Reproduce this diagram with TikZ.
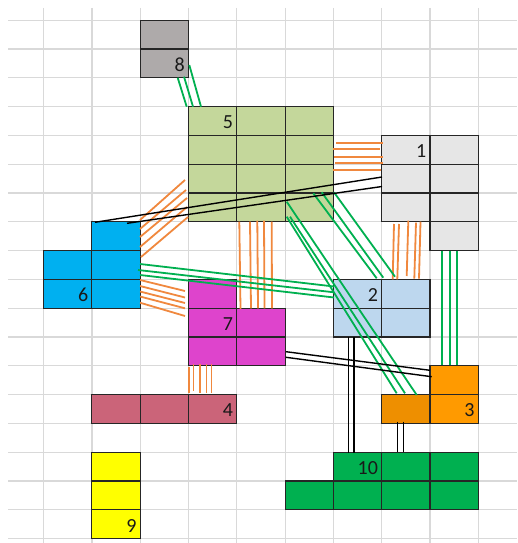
\documentclass[tikz,border=0pt]{standalone}
\usepackage{fontspec}
\setmainfont{Carlito}
\definecolor{gridc}{HTML}{D9D9D9}
\definecolor{cgray}{HTML}{AEAAAA}
\definecolor{colive}{HTML}{C4D79B}
\definecolor{clight}{HTML}{E6E6E6}
\definecolor{cblue}{HTML}{00B0F0}
\definecolor{cmag}{HTML}{DE44CC}
\definecolor{cpale}{HTML}{BDD7EE}
\definecolor{corA}{HTML}{FF9A00}
\definecolor{corB}{HTML}{EE8F00}
\definecolor{crose}{HTML}{CB6479}
\definecolor{cyel}{HTML}{FFFF00}
\definecolor{cgreen}{HTML}{00B050}
\definecolor{lgreen}{HTML}{00B050}
\definecolor{lorange}{HTML}{F0883E}
\newcommand\blockcell[3]{\filldraw[fill=#3,cellborder] ({43.6+48.3*#1},{20.2+28.8*#2}) rectangle ++(48.3,28.8);}
\newcommand\celllabel[4]{\node[lab] (#1) at ({43.6+48.3*(#2+1)-3.5},{20.2+28.8*(#3+1)-6.5}) {#4};}
\begin{document}
\begin{tikzpicture}[x=1pt,y=-1pt,
  gridline/.style={draw=gridc,line width=1.2pt},
  cellborder/.style={draw=black!85,line width=1.1pt},
  gline/.style={draw=lgreen,line width=1.8pt},
  oline/.style={draw=lorange,line width=1.8pt},
  kline/.style={draw=black,line width=1.4pt},
  lab/.style={anchor=base east,inner sep=0pt,text=black!90,font=\fontsize{20}{24}\selectfont}]
\useasboundingbox (0,0) rectangle (517,543);
\fill[white] (0,0) rectangle (517,543);
% grid
\foreach \c in {0,...,9} \draw[gridline] ({43.6+48.3*\c},8) -- ({43.6+48.3*\c},543);
\foreach \r in {0,...,18} \draw[gridline] (8,{20.2+28.8*\r}) -- (517,{20.2+28.8*\r});
% block 8
\foreach \r in {0,1} {\blockcell{2}{\r}{cgray}}
% block 5
\foreach \c in {3,4,5} {\foreach \r in {3,4,5,6} {\blockcell{\c}{\r}{colive}}}
% block 1
\foreach \c in {7,8} {\foreach \r in {4,5,6} {\blockcell{\c}{\r}{clight}}}
\blockcell{8}{7}{clight}
% block 6
\blockcell{1}{7}{cblue}
\foreach \c in {0,1} {\foreach \r in {8,9} {\blockcell{\c}{\r}{cblue}}}
% block 7
\blockcell{3}{9}{cmag}
\foreach \c in {3,4} {\foreach \r in {10,11} {\blockcell{\c}{\r}{cmag}}}
% block 2
\foreach \c in {6,7} {\foreach \r in {9,10} {\blockcell{\c}{\r}{cpale}}}
% block 3
\blockcell{8}{12}{corA}
\blockcell{7}{13}{corB}
\blockcell{8}{13}{corA}
% block 4
\foreach \c in {1,2,3} {\blockcell{\c}{13}{crose}}
% block 9
\foreach \r in {15,16,17} {\blockcell{1}{\r}{cyel}}
% block 10
\foreach \c in {6,7,8} {\blockcell{\c}{15}{cgreen}}
\foreach \c in {5,6,7,8} {\blockcell{\c}{16}{cgreen}}
% connectors 8-5
\foreach \a/\b/\c/\d in {177.7/77.7/186.7/106.7, 184/76.7/193/106.7, 189.3/65/201/106.7}
  \draw[gline] (\a,\b) -- (\c,\d);
% 5-1
\foreach \a/\b/\c/\d in {336/143.3/383/143.3, 333/149/380/149, 334/157.3/383/157.3, 335/163.3/383/163.3, 333/170/381/170}
  \draw[oline] (\a,\b) -- (\c,\d);
% 6-5
\foreach \a/\b/\c/\d in {140/220/185/180, 140/229/186/190, 140/237/187/198, 140/247/187/207, 141/257/188/217}
  \draw[oline] (\a,\b) -- (\c,\d);
% 6-7
\foreach \a/\b/\c/\d in {140/280/185/291, 140/286/185/297.5, 140/291.5/185/303, 140/296.5/185/308.3, 140/302.7/185/316}
  \draw[oline] (\a,\b) -- (\c,\d);
% 5-7
\foreach \a/\b/\c/\d in {239.3/221.7/240.5/309, 250/221.7/251/308.3, 257.3/220.7/258/308.3, 264/220.7/264.5/308.3, 271.7/221.7/272/308.3}
  \draw[oline] (\a,\b) -- (\c,\d);
% 1-2
\foreach \a/\b/\c/\d in {394/224/392.7/279.3, 399/224/397.3/279.3, 408.3/220.7/406.7/276, 416/222.7/414.3/278.7, 420.5/221.7/419/278.7}
  \draw[oline] (\a,\b) -- (\c,\d);
% 7-4
\foreach \a/\b/\c/\d in {189/366.7/189/393.3, 193.5/364/193.5/390.7, 200/364/200/392.7, 206.5/364/206.5/393.3, 211.5/364/211.5/393.3}
  \draw[oline] (\a,\b) -- (\c,\d);
% 6-2
\foreach \a/\b/\c/\d in {140/264/334/286.5, 138/270/334/292.3, 140/275/334/297.5}
  \draw[gline] (\a,\b) -- (\c,\d);
% 5-2
\foreach \a/\b/\c/\d in {313.3/193.3/376.7/278.3, 321.7/192.3/383.3/277.7, 334/192.3/395/276.7}
  \draw[gline] (\a,\b) -- (\c,\d);
% 5-3
\foreach \a/\b/\c/\d in {286.7/201.7/416.7/395, 286.7/216.7/396.7/393.3, 290/216.7/405/393.3}
  \draw[gline] (\a,\b) -- (\c,\d);
% 1-3
\foreach \a in {441.7,450,457.3}
  \draw[gline] (\a,250.7) -- (\a,365);
% 6-1
\foreach \a/\b/\c/\d in {95/222.3/382/177, 127/223.3/382/186.5}
  \draw[kline] (\a,\b) -- (\c,\d);
% 7-3
\foreach \a/\b/\c/\d in {286/351.7/430/370.3, 286/357.3/431.7/376.7}
  \draw[kline] (\a,\b) -- (\c,\d);
% 2-10
\foreach \a in {348.3,354}
  \draw[kline] (\a,337.3) -- (\a,452.5);
% 3-10
\foreach \a in {397.3,403.3}
  \draw[kline] (\a,421.7) -- (\a,452.3);
% labels
\celllabel{l8}{2}{1}{8}
\celllabel{l5}{3}{3}{5}
\celllabel{l1}{7}{4}{1}
\celllabel{l6}{0}{9}{6}
\celllabel{l7}{3}{10}{7}
\celllabel{l2}{6}{9}{2}
\celllabel{l3}{8}{13}{3}
\celllabel{l4}{3}{13}{4}
\celllabel{l9}{1}{17}{9}
\celllabel{l10}{6}{15}{10}
\end{tikzpicture}
\end{document}
